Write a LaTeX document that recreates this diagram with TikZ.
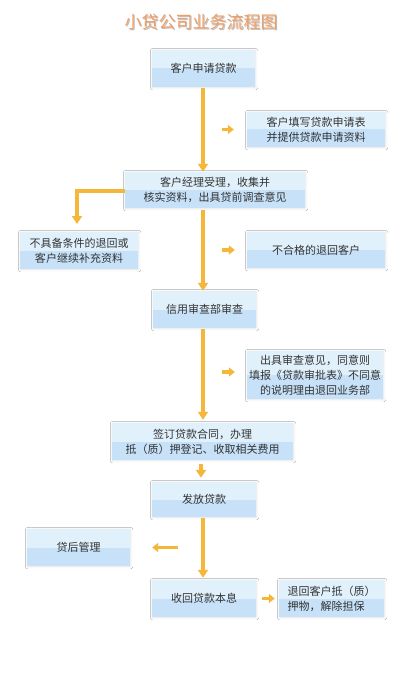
\documentclass[tikz,border=0pt]{standalone}
\usepackage{fontspec}
\setmainfont{Noto Sans CJK SC}
\usetikzlibrary{arrows.meta,calc,shadows.blur}
\definecolor{boxtop}{HTML}{E0F1FC}
\definecolor{boxbot}{HTML}{C6E1F8}
\definecolor{arrowc}{HTML}{F5B73A}
\definecolor{txt}{HTML}{333333}
\definecolor{titlec}{HTML}{EF9F66}
\tikzset{
  flowbox/.style={rectangle, fill=boxtop, text=txt, align=center,
    font=\fontsize{11}{15}\selectfont, inner sep=2pt,
    blur shadow={shadow xshift=0.6pt, shadow yshift=-0.6pt, shadow opacity=12, shadow blur steps=6},
    path picture={\fill[boxbot] (path picture bounding box.west) rectangle (path picture bounding box.south east);}},
  mainarrow/.style={draw=arrowc, line width=3.6pt, -{Triangle[width=10pt,length=8pt]}},
  stubarrow/.style={draw=arrowc, line width=3.4pt, -{Triangle[width=9pt,length=6pt]}},
}
\begin{document}
\begin{tikzpicture}[x=1pt,y=-1pt]
\useasboundingbox[fill=white] (0,0) rectangle (400,676);
% title
\node[text=gray!50, font=\fontsize{17}{18}\selectfont] at (202.2,23.2) {小贷公司业务流程图};
\node (title) [text=titlec, font=\fontsize{17}{18}\selectfont] at (201,22) {小贷公司业务流程图};
% main boxes
\node (b1) [flowbox, minimum width=103, minimum height=37] at (203.5,68.5) {客户申请贷款};
\node (s1) [flowbox, minimum width=138, minimum height=35] at (316,129.5) {客户填写贷款申请表\\并提供贷款申请资料};
\node (b2) [flowbox, minimum width=180, minimum height=36] at (215,190) {客户经理受理，收集并\\核实资料，出具贷前调查意见};
\node (lf) [flowbox, minimum width=118, minimum height=37] at (79,250.5) {不具备条件的退回或\\客户继续补充资料};
\node (s2) [flowbox, minimum width=138, minimum height=36] at (316,250) {不合格的退回客户};
\node (b3) [flowbox, minimum width=103, minimum height=37] at (204.5,309.5) {信用审查部审查};
\node (s3) [flowbox, minimum width=136, minimum height=48] at (315,375) {出具审查意见，同意则\\填报《贷款审批表》不同意\\的说明理由退回业务部};
\node (b4) [flowbox, minimum width=181, minimum height=37] at (202.5,441.5) {签订贷款合同，办理\\抵（质）押登记、收取相关费用};
\node (b5) [flowbox, minimum width=104, minimum height=35] at (204,499.5) {发放贷款};
\node (pm) [flowbox, minimum width=103, minimum height=37] at (78.5,547.5) {贷后管理};
\node (b6) [flowbox, minimum width=104, minimum height=37] at (204,598.5) {收回贷款本息};
\node (rt) [flowbox, minimum width=105, minimum height=37, align=left] at (331.5,598.5) {退回客户抵（质）\\押物，解除担保};
% main flow arrows
\coordinate (m1) at (203,88);
\coordinate (m2) at (203,210);
\coordinate (m3) at (203,329);
\coordinate (m4) at (201,464);
\coordinate (m5) at (203,518);
\draw[mainarrow] (m1) -- (m1 |- b2.north);
\draw[mainarrow] (m2) -- (m2 |- b3.north);
\draw[mainarrow] (m3) -- ($(m3 |- b4.north)+(0,-3)$);
\draw[mainarrow] (m4) -- ($(m4 |- b5.north)+(0,-4)$);
\draw[mainarrow] (m5) -- ($(m5 |- b6.north)+(0,-2)$);
% left branch
\coordinate (lb) at (77,224);
\draw[mainarrow] (b2.west |- 0,191) -| (lb);
% side stub arrows
\draw[stubarrow] ($(s1.west)+(-25,0)$) -- ($(s1.west)+(-13,0)$);
\draw[stubarrow] ($(s2.west)+(-25,0)$) -- ($(s2.west)+(-12,0)$);
\draw[stubarrow] ($(s3.west)+(-25,-3)$) -- ($(s3.west)+(-12,-3)$);
\draw[stubarrow] ($(rt.west)+(-17,0)$) -- ($(rt.west)+(-4,0)$);
\draw[stubarrow] ($(pm.east)+(48,0)$) -- ($(pm.east)+(22,0)$);
\end{tikzpicture}
\end{document}
